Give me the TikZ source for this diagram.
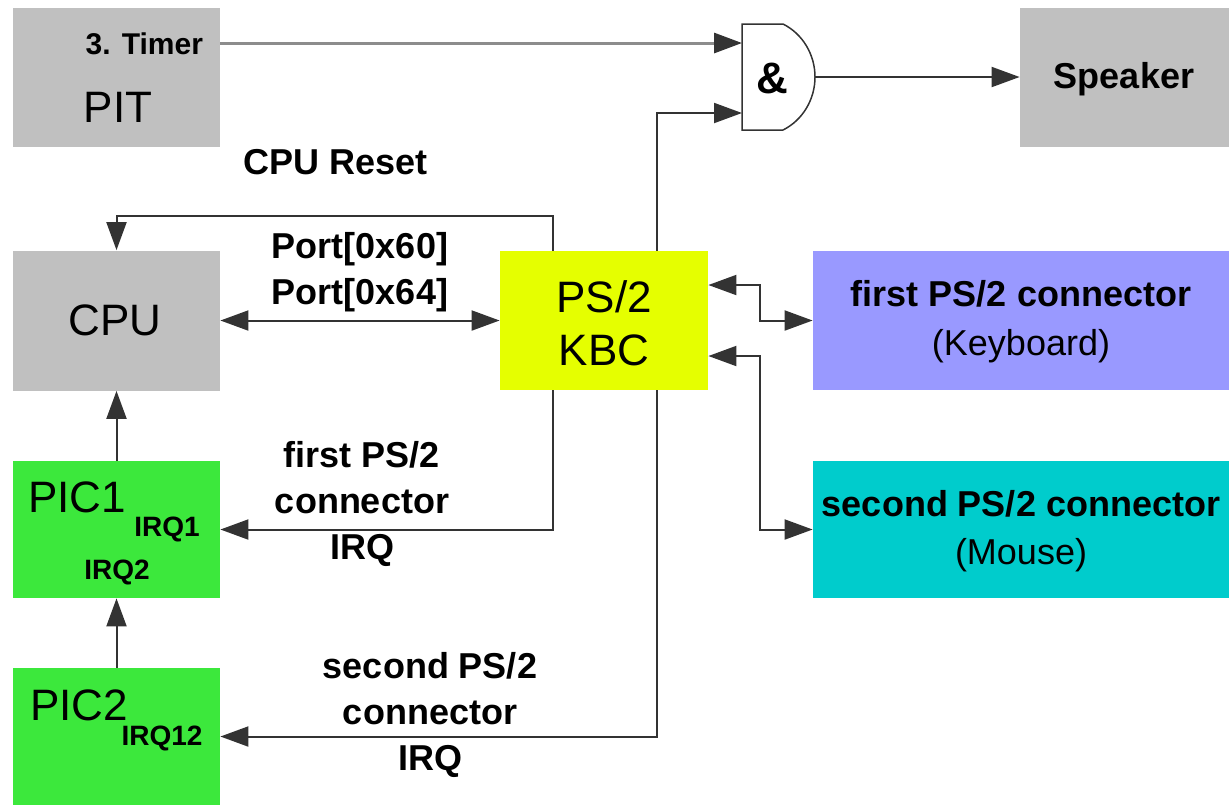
\documentclass[tikz,border=0pt]{standalone}
\usepackage{fontspec}
\setmainfont{Liberation Sans}
\usetikzlibrary{arrows.meta}
\definecolor{boxgray}{RGB}{192,192,192}
\definecolor{kbcyellow}{RGB}{229,255,0}
\definecolor{kbdblue}{RGB}{153,153,255}
\definecolor{mousecyan}{RGB}{0,204,204}
\definecolor{picgreen}{RGB}{60,232,60}
\tikzset{
  >={Triangle[length=14pt,width=10pt]},
  BoxStyle/.style = { rectangle, inner sep = 0pt,
                      minimum width = 103.5pt, minimum height = 69.5pt },
  WideStyle/.style = { BoxStyle, minimum width = 208pt },
  TitleStyle/.style = { font = \fontsize{22}{26.5}\selectfont, align = center },
  LabelStyle/.style = { font = \fontsize{18}{23}\selectfont\bfseries, align = center },
  SmallStyle/.style = { font = \fontsize{14}{17}\selectfont\bfseries },
  EdgeStyle/.style = { draw = black!80, line width = 1pt, -> } }

\begin{document}
\begin{tikzpicture}[x=0.5pt,y=-0.5pt]
  \useasboundingbox (0,0) rectangle (1229,805);

  \node[BoxStyle,fill=boxgray] (PIT) at (116.5,77.5) {};
  \node[SmallStyle,font=\fontsize{15}{18}\selectfont\bfseries,anchor=east] (Timer) at (210,44) {3. Timer};
  \node[TitleStyle] (PITText) at (118,107) {PIT};

  \node[BoxStyle,fill=boxgray,minimum width=104.5pt] (Speaker) at (1124.5,77.5) {};
  \node[LabelStyle] (SpeakerText) at (1124,79) {Speaker};

  \node[BoxStyle,fill=boxgray,minimum height=70pt] (CPU) at (116.5,320.5) {};
  \node[TitleStyle] (CPUText) at (115,320) {CPU};

  \node[BoxStyle,fill=kbcyellow,minimum width=104pt] (KBC) at (604,320.5) {};
  \node[TitleStyle] (KBCText) at (604,323) {PS/2\\KBC};

  \node[WideStyle,fill=kbdblue] (Kbd) at (1021,320.5) {};
  \node[LabelStyle,font=\fontsize{18}{24.5}\selectfont\bfseries] (KbdText) at (1021,322)
    {first PS/2 connector\\\mdseries(Keyboard)};

  \node[WideStyle,fill=mousecyan,minimum height=68.5pt] (Mouse) at (1021,529.5) {};
  \node[LabelStyle,font=\fontsize{18}{24}\selectfont\bfseries] (MouseText) at (1021,531)
    {second PS/2 connector\\\mdseries(Mouse)};

  \node[BoxStyle,fill=picgreen,minimum height=68.5pt] (PIC1) at (116.5,529.5) {};
  \node[TitleStyle] (PIC1Text) at (77,497) {PIC1};
  \node[SmallStyle] (IRQ1) at (167,529) {IRQ1};
  \node[SmallStyle] (IRQ2) at (117,572) {IRQ2};

  \node[BoxStyle,fill=picgreen,minimum height=68.5pt] (PIC2) at (116.5,736.5) {};
  \node[TitleStyle] (PIC2Text) at (79,705) {PIC2};
  \node[SmallStyle] (IRQ12) at (162,738) {IRQ12};

  \draw[black!80,line width=0.75pt] (742,24) -- (783,24)
    .. controls (803,34) and (815,55) .. (815,77)
    .. controls (815,99) and (803,120) .. (783,130) -- (742,130) -- cycle;
  \node[font=\fontsize{22}{26}\selectfont\bfseries] (Gate) at (772,78) {\&};
  \coordinate (GateInA) at (742,43);
  \coordinate (GateInB) at (742,113);
  \coordinate (GateOut) at (815,77);
  \coordinate (ResetTop) at (553,216);

  \node[LabelStyle] (ResetLabel) at (336,162) {CPU Reset};
  \node[LabelStyle] (PortLabel) at (360,272) {Port[0x60]\\Port[0x64]};
  \node[LabelStyle] (Irq1Label) at (362,504) {first PS/2\\connector\\IRQ};
  \node[LabelStyle] (Irq12Label) at (430,715) {second PS/2\\connector\\IRQ};

  \draw[EdgeStyle,draw=black!45,line width=1.5pt,
        -{Triangle[length=14pt,width=10pt,color=black!80]}] (PIT.east |- GateInA) -- (GateInA);
  \draw[EdgeStyle] ([xshift=26.5pt]KBC.north) |- (GateInB);
  \draw[EdgeStyle] (GateOut) -- (Speaker.west |- GateOut);
  \draw[EdgeStyle] (KBC.north -| ResetTop) -- (ResetTop) -| (CPU.north);
  \draw[EdgeStyle,<->] (CPU.east) -- (KBC.west);
  \draw[EdgeStyle,<->] ([yshift=17.75pt]KBC.east) -- ++(52,0) |- (Kbd.west);
  \draw[EdgeStyle,<->] ([yshift=-17.75pt]KBC.east) -- ++(52,0) |- (Mouse.west);
  \draw[EdgeStyle] (KBC.south -| ResetTop) |- (PIC1.east);
  \draw[EdgeStyle] ([xshift=26.5pt]KBC.south) |- (PIC2.east);
  \draw[EdgeStyle] (PIC1) -- (CPU);
  \draw[EdgeStyle] (PIC2) -- (PIC1);

\end{tikzpicture}
\end{document}
